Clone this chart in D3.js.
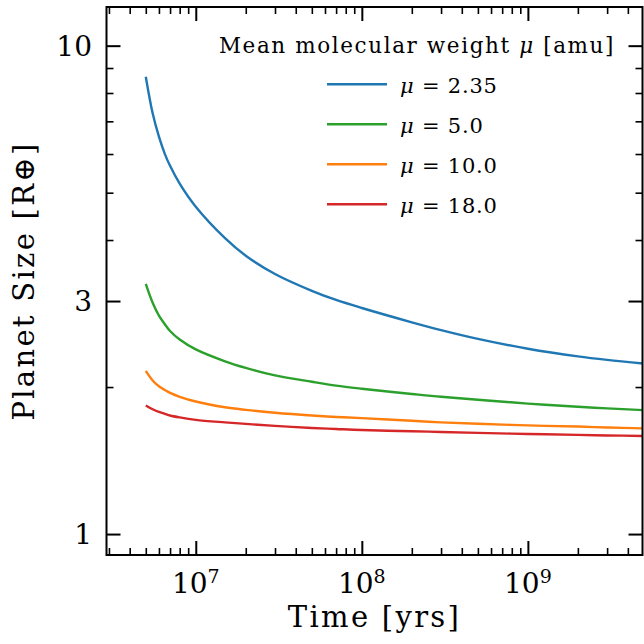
<!DOCTYPE html>
<html><head><meta charset="utf-8">
<script src="https://cdn.jsdelivr.net/npm/d3@7"></script>
<style>body{margin:0;background:#fff} svg{display:block}</style>
</head><body><svg id="c" width="644" height="644"></svg>
<script>
// ---- data ----
const times   = [5e6,5.5e6,6e6,6.5e6,7e6,8e6,1e7,1.5e7,2e7,3e7,5e7,7e7,1e8,2e8,3e8,5e8,1e9,2e9,3e9,5e9];
const mu235   = [8.640,7.270,6.510,6.013,5.675,5.220,4.681,4.036,3.715,3.408,3.148,3.015,2.903,2.714,2.616,2.510,2.396,2.311,2.273,2.234];
const mu50    = [3.253,2.975,2.800,2.692,2.605,2.502,2.388,2.258,2.189,2.113,2.050,2.013,1.984,1.936,1.910,1.884,1.850,1.822,1.809,1.793];
const mu100   = [2.158,2.063,2.007,1.973,1.945,1.910,1.868,1.818,1.796,1.772,1.749,1.737,1.727,1.706,1.693,1.682,1.669,1.660,1.653,1.646];
const mu180   = [1.834,1.801,1.778,1.763,1.749,1.733,1.713,1.693,1.681,1.665,1.649,1.641,1.633,1.624,1.618,1.611,1.603,1.596,1.592,1.588];
const seriesNames  = ["2.35","5.0","10.0","18.0"];
const seriesValues = [mu235, mu50, mu100, mu180];
const seriesColors = ["#1f77b4","#2ca02c","#ff7f0e","#d62728"];
const xMajorTicks = [1e7,1e8,1e9];
const xTickExponents = ["7","8","9"];
const yMajorTicks = [1,3,10];
const yTickLabels = ["1","3","10"];
const yMinorTicks = [2,4,5,6,7,8,9];
const legendTitle = "Mean molecular weight ";
const xTitle = "Time [yrs]";
const yTitle = "Planet Size [R\u2295]";

// ---- layout ----
const L = 106.5, R = 642.5, T = 7, B = 555;
const svg = d3.select("#c");
const x = d3.scaleLog().domain([2.9e6, 4.9e9]).range([L, R]);
const y = d3.scaleLog().domain([0.906, 12.0]).range([B, T]);
const xMinor = x.ticks().filter(v => !xMajorTicks.some(m => Math.abs(m - v) / m < 1e-6));
const font = "DejaVu Serif";

svg.append("defs").append("clipPath").attr("id","clip")
  .append("rect").attr("x",L).attr("y",T).attr("width",R-L).attr("height",B-T);

// ---- curves ----
const line = d3.line().x(d => x(d[0])).y(d => y(d[1])).curve(d3.curveCatmullRom.alpha(0.5));
const g = svg.append("g").attr("clip-path","url(#clip)");
seriesValues.forEach((vals, i) => {
  g.append("path").attr("d", line(times.map((t,j)=>[t, vals[j]])))
    .attr("fill","none").attr("stroke", seriesColors[i]).attr("stroke-width", 2.4);
});

// ---- axes (inward ticks on all sides) ----
function styleAxis(sel, w){
  sel.select(".domain").remove();
  sel.selectAll(".tick line").attr("stroke","#000").attr("stroke-width", w);
  sel.selectAll(".tick text").remove();
}
const maj = 14, mnr = 7;
svg.append("g").attr("transform",`translate(0,${B})`)
  .call(d3.axisBottom(x).tickValues(xMajorTicks).tickSize(-maj)).call(s=>styleAxis(s,2));
svg.append("g").attr("transform",`translate(0,${B})`)
  .call(d3.axisBottom(x).tickValues(xMinor).tickSize(-mnr)).call(s=>styleAxis(s,1.6));
svg.append("g").attr("transform",`translate(0,${T})`)
  .call(d3.axisTop(x).tickValues(xMajorTicks).tickSize(-maj)).call(s=>styleAxis(s,2));
svg.append("g").attr("transform",`translate(0,${T})`)
  .call(d3.axisTop(x).tickValues(xMinor).tickSize(-mnr)).call(s=>styleAxis(s,1.6));
svg.append("g").attr("transform",`translate(${L},0)`)
  .call(d3.axisLeft(y).tickValues(yMajorTicks).tickSize(-maj)).call(s=>styleAxis(s,2));
svg.append("g").attr("transform",`translate(${L},0)`)
  .call(d3.axisLeft(y).tickValues(yMinorTicks).tickSize(-mnr)).call(s=>styleAxis(s,1.6));
svg.append("g").attr("transform",`translate(${R},0)`)
  .call(d3.axisRight(y).tickValues(yMajorTicks).tickSize(-maj)).call(s=>styleAxis(s,2));
svg.append("g").attr("transform",`translate(${R},0)`)
  .call(d3.axisRight(y).tickValues(yMinorTicks).tickSize(-mnr)).call(s=>styleAxis(s,1.6));

svg.append("rect").attr("x",L).attr("y",T).attr("width",R-L).attr("height",B-T)
  .attr("fill","none").attr("stroke","#000").attr("stroke-width",2);

// ---- tick labels ----
yMajorTicks.forEach((v,i)=>{
  svg.append("text").attr("x", 92).attr("y", y(v)).attr("dy","0.36em")
    .attr("text-anchor","end").attr("font-family",font).attr("font-size",28)
    .attr("fill","#000").text(yTickLabels[i]);
});
xMajorTicks.forEach((v,i)=>{
  const t = svg.append("text").attr("x", x(v)).attr("y", 593)
    .attr("text-anchor","middle").attr("font-family",font).attr("font-size",28).attr("fill","#000");
  t.append("tspan").text("10");
  t.append("tspan").attr("font-size",19).attr("dy",-10).text(xTickExponents[i]);
});

// ---- axis titles ----
svg.append("text").attr("x",(L+R)/2).attr("y",627).attr("text-anchor","middle")
  .attr("font-family",font).attr("font-size",29).attr("letter-spacing",2.3).attr("fill","#000").text(xTitle);
svg.append("text").attr("transform",`translate(34,${(T+B)/2}) rotate(-90)`).attr("text-anchor","middle")
  .attr("font-family",font).attr("font-size",29).attr("letter-spacing",2.3).attr("fill","#000").text(yTitle);

// ---- legend ----
const lt = svg.append("text").attr("x",417).attr("y",53).attr("text-anchor","middle")
  .attr("font-family",font).attr("font-size",21.5).attr("letter-spacing",1.6).attr("fill","#000");
lt.append("tspan").text(legendTitle);
lt.append("tspan").attr("font-style","italic").text("\u03bc");
lt.append("tspan").text(" [amu]");

seriesNames.forEach((n,i)=>{
  const yy = 84.3 + i*40;
  svg.append("line").attr("x1",327).attr("x2",387).attr("y1",yy).attr("y2",yy)
    .attr("stroke",seriesColors[i]).attr("stroke-width",2.4);
  const t = svg.append("text").attr("x",400).attr("y",yy+8.5)
    .attr("font-family",font).attr("font-size",21).attr("letter-spacing",0.8).attr("fill","#000");
  t.append("tspan").attr("font-style","italic").text("\u03bc");
  t.append("tspan").text(" = " + n);
});
</script></body></html>
